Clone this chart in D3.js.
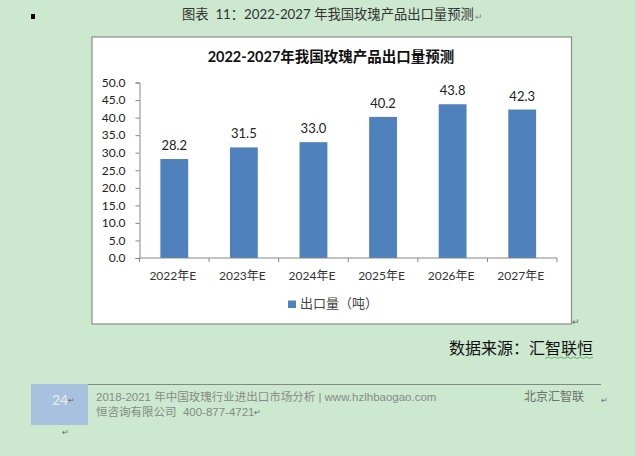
<!DOCTYPE html>
<html>
<head>
<meta charset="utf-8">
<script src="https://d3js.org/d3.v7.min.js"></script>
<style>
  html, body { margin: 0; padding: 0; background: #cce8cf; }
  svg { display: block; }
  text { font-family: Lato, "Noto Sans CJK SC", sans-serif; }
</style>
</head>
<body>
<div id="chart"></div>
<script>
"use strict";

var categories = ["2022年E", "2023年E", "2024年E", "2025年E", "2026年E", "2027年E"];
var exportValues = [28.2, 31.5, 33.0, 40.2, 43.8, 42.3];
var yTicks = [0, 5, 10, 15, 20, 25, 30, 35, 40, 45, 50];
var seriesName = "出口量（吨）";
var chartTitle = "2022-2027年我国玫瑰产品出口量预测";
var captionText = "图表  11：2022-2027 年我国玫瑰产品出口量预测";
var sourceText = "数据来源：汇智联恒";
var pageNumber = "24";
var footerLine1 = "2018-2021 年中国玫瑰行业进出口市场分析 | www.hzlhbaogao.com";
var footerCompany = "北京汇智联";
var footerLine2 = "恒咨询有限公司  400-877-4721";

var svg = d3.select("#chart").append("svg")
  .attr("width", 635)
  .attr("height", 456);

svg.append("rect")
  .attr("width", 635).attr("height", 456)
  .attr("fill", "#cce8cf");

function addText(x, y, str, size, fill, anchor) {
  return svg.append("text")
    .attr("x", x).attr("y", y)
    .attr("font-size", size)
    .attr("fill", fill)
    .attr("text-anchor", anchor || "start")
    .attr("xml:space", "preserve")
    .text(str);
}

// small mark at the top left of the page
svg.append("rect")
  .attr("x", 31).attr("y", 14).attr("width", 4).attr("height", 5)
  .attr("fill", "#000");

// caption above the chart
addText(182, 19, captionText, 13.3, "#333", "start");
addText(475, 20, "↵", 9, "#888");

// chart frame
svg.append("rect")
  .attr("x", 92).attr("y", 37).attr("width", 479.5).attr("height", 287)
  .attr("fill", "#fff")
  .attr("stroke", "#8a8a8a")
  .attr("stroke-width", 1.2);
addText(572, 325, "↵", 9, "#666");

addText(331, 62, chartTitle, 14.5, "#111", "middle")
  .attr("font-weight", "bold");

var x = d3.scaleBand()
  .domain(categories)
  .range([139.5, 557])
  .paddingInner(0.6)
  .paddingOuter(0.3);

var y = d3.scaleLinear()
  .domain([0, 50])
  .range([258, 82.5]);

var bars = categories.map(function(c, i){
  return {cat: c, val: exportValues[i]};
});

svg.selectAll("rect.bar")
  .data(bars)
  .enter()
  .append("rect")
    .attr("class", "bar")
    .attr("x", function(d){ return x(d.cat); })
    .attr("y", function(d){ return y(d.val); })
    .attr("width", x.bandwidth())
    .attr("height", function(d){ return y(0) - y(d.val); })
    .attr("fill", "#4f81bd");

svg.selectAll("text.val")
  .data(bars)
  .enter()
  .append("text")
    .attr("class", "val")
    .attr("x", function(d){ return x(d.cat) + x.bandwidth() / 2; })
    .attr("y", function(d){ return y(d.val) - 9; })
    .attr("text-anchor", "middle")
    .attr("font-size", 13)
    .attr("fill", "#222")
    .text(function(d){ return d.val.toFixed(1); });

// y axis
var yAxis = d3.axisLeft(y)
  .tickValues(yTicks)
  .tickFormat(d3.format(".1f"))
  .tickSize(4)
  .tickPadding(10);

var yG = svg.append("g")
  .attr("transform", "translate(139.5,0)")
  .call(yAxis);
yG.selectAll("path, line").attr("stroke", "#868686");
yG.selectAll("text")
  .attr("font-size", 12)
  .attr("fill", "#222")
  .style("font-family", 'Lato, "Noto Sans CJK SC", sans-serif');

// x axis, ticks sit between the categories so they are drawn from the band edges
var step = x.step();
var edges = categories.map(function(c){ return x(c) - (step - x.bandwidth()) / 2; });
edges.push(x.range()[1]);

svg.append("line")
  .attr("x1", x.range()[0]).attr("x2", x.range()[1])
  .attr("y1", y(0)).attr("y2", y(0))
  .attr("stroke", "#868686");

svg.selectAll("line.xtick")
  .data(edges)
  .enter()
  .append("line")
    .attr("class", "xtick")
    .attr("x1", function(d){ return d; })
    .attr("x2", function(d){ return d; })
    .attr("y1", y(0))
    .attr("y2", y(0) + 4)
    .attr("stroke", "#868686");

svg.selectAll("text.xlab")
  .data(categories)
  .enter()
  .append("text")
    .attr("class", "xlab")
    .attr("x", function(d){ return x(d) + x.bandwidth() / 2 - 1.5; })
    .attr("y", 280)
    .attr("text-anchor", "middle")
    .attr("font-size", 12)
    .attr("fill", "#333")
    .text(function(d){ return d; });

// legend
svg.append("rect")
  .attr("x", 288).attr("y", 300.5).attr("width", 8).attr("height", 7.5)
  .attr("fill", "#4f81bd");
addText(300, 308, seriesName, 13, "#444");

// source line
addText(449, 354, sourceText, 16, "#111");
svg.append("path")
  .attr("d", d3.range(0, 16).map(function(i){
    return (i === 0 ? "M" : "L") + (545 + i * 3.2) + "," + (i % 2 ? 357 : 358.5);
  }).join(""))
  .attr("fill", "none")
  .attr("stroke", "#3f9a3f")
  .attr("stroke-width", 0.7);

// footer
svg.append("rect")
  .attr("x", 31).attr("y", 384).attr("width", 57).attr("height", 41)
  .attr("fill", "#a8c1de");
svg.append("line")
  .attr("x1", 88).attr("x2", 601)
  .attr("y1", 384.5).attr("y2", 384.5)
  .attr("stroke", "#7f8a80")
  .attr("stroke-width", 1);

var footerFont = '"Liberation Sans", "Noto Sans CJK SC", sans-serif';
addText(52, 405, pageNumber, 14, "#e8f0f8");
addText(68, 403, "↵", 8, "#667");
addText(96, 401, footerLine1, 11.5, "#858c85").style("font-family", footerFont);
addText(524, 401, footerCompany, 12, "#6a706a");
addText(601, 403, "↵", 8, "#667");
addText(96, 416, footerLine2, 11.5, "#858c85").style("font-family", footerFont);
addText(254, 415, "↵", 8, "#667");
addText(62, 435, "↵", 8, "#667");
</script>
</body>
</html>
